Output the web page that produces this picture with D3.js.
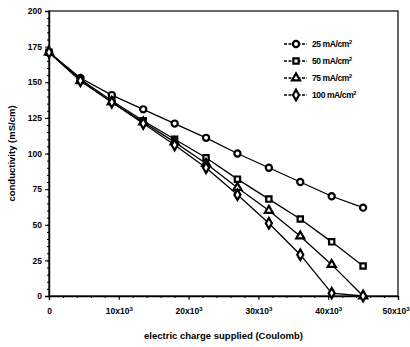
<!DOCTYPE html>
<html><head><meta charset="utf-8">
<script src="https://cdn.jsdelivr.net/npm/d3@7"></script>
<style>body{margin:0;background:#fff}svg{display:block}text{font-family:"Liberation Sans Narrow","Arial Narrow","Liberation Sans",Arial,sans-serif;fill:#000}</style>
</head><body><svg id="c" width="410" height="347"></svg>
<script>
const charge = [0, 4500, 9000, 13500, 18000, 22500, 27000, 31500, 36000, 40500, 45000];
const s25  = [171, 153, 141, 131, 121, 111, 100, 90, 80, 70, 62];
const s50  = [171, 152, 137, 123, 110, 97, 82, 68, 54, 38, 21];
const s75  = [171, 151, 136, 122, 108, 93, 76, 60, 42, 22, 0];
const s100 = [171, 151, 136, 121, 106, 90, 71, 51, 29, 2, 0];
const seriesNames = ["25 mA/cm", "50 mA/cm", "75 mA/cm", "100 mA/cm"];
const markerTypes = ["circle", "square", "triangle", "diamond"];
const xTicks = [0, 10000, 20000, 30000, 40000, 50000];
const yTicks = [0, 25, 50, 75, 100, 125, 150, 175, 200];

const svg = d3.select("#c");
const L = 49, R = 398, T = 11, B = 296;
const x = d3.scaleLinear().domain([0, 50000]).range([L, R]);
const y = d3.scaleLinear().domain([0, 200]).range([B, T]);

// frame
svg.append("rect").attr("x", L).attr("y", T).attr("width", R - L).attr("height", B - T)
  .attr("fill", "none").attr("stroke", "#000").attr("stroke-width", 1.2);

// axes
const yAx = svg.append("g").attr("transform", `translate(${L},0)`)
  .call(d3.axisLeft(y).tickValues(yTicks).tickSize(4).tickPadding(3));
yAx.select(".domain").attr("stroke-width", 1.4);
yAx.selectAll("text").attr("font-size", 8.5).attr("font-weight", "bold");
svg.append("g").attr("transform", `translate(${L},0)`)
  .call(d3.axisLeft(y).tickValues(d3.range(0, 201, 5)).tickSize(2).tickFormat(""))
  .select(".domain").remove();

const xAx = svg.append("g").attr("transform", `translate(0,${B})`)
  .call(d3.axisBottom(x).tickValues(xTicks).tickSize(4).tickPadding(8)
    .tickFormat(() => ""));
xAx.select(".domain").attr("stroke-width", 1.4);
xAx.selectAll(".tick text").each(function(d) {
  const t = d3.select(this).attr("font-size", 8.5).attr("font-weight", "bold");
  if (d === 0) { t.text("0"); return; }
  if (d === 50000) t.attr("text-anchor", "end").attr("x", 409 - x(d));
  t.append("tspan").text((d / 1000) + "x10");
  t.append("tspan").attr("dy", -3).attr("font-size", 6).text("3");
});
svg.append("g").attr("transform", `translate(0,${B})`)
  .call(d3.axisBottom(x).tickValues(d3.range(0, 50001, 2000)).tickSize(2).tickFormat(""))
  .select(".domain").remove();

// titles
svg.append("text").attr("transform", `translate(15,${(T + B) / 2}) rotate(-90)`)
  .attr("text-anchor", "middle").attr("font-size", 9.5).attr("font-weight", "bold")
  .text("conductivity (mS/cm)");
svg.append("text").attr("x", (L + R) / 2).attr("y", 339)
  .attr("text-anchor", "middle").attr("font-size", 9.5).attr("font-weight", "bold")
  .text("electric charge supplied (Coulomb)");

const sym = {
  circle: d3.symbol().type(d3.symbolCircle).size(30),
  square: d3.symbol().type(d3.symbolSquare).size(28),
  triangle: d3.symbol().type(d3.symbolTriangle).size(28),
  diamond: d3.symbol().type(d3.symbolDiamond).size(32)
};

const allSeries = [s25, s50, s75, s100];
const line = d3.line().x((d, i) => x(charge[i])).y(d => y(d));
allSeries.forEach((s, k) => {
  svg.append("path").datum(s).attr("d", line).attr("fill", "none")
    .attr("stroke", "#000").attr("stroke-width", 1.3);
});
allSeries.forEach((s, k) => {
  svg.append("g").selectAll("path").data(s).join("path")
    .attr("transform", (d, i) => `translate(${x(charge[i])},${y(d)})`)
    .attr("d", sym[markerTypes[k]]())
    .attr("fill", "#fff").attr("stroke", "#000").attr("stroke-width", 2.2);
});

// legend
const lg = svg.append("g");
seriesNames.forEach((n, k) => {
  const yy = 44 + k * 17;
  lg.append("line").attr("x1", 284).attr("x2", 307).attr("y1", yy).attr("y2", yy)
    .attr("stroke", "#000").attr("stroke-width", 1.3).attr("stroke-dasharray", "3,1.5");
  lg.append("path").attr("transform", `translate(296,${yy})`).attr("d", sym[markerTypes[k]]())
    .attr("fill", "#fff").attr("stroke", "#000").attr("stroke-width", 2.2);
  const t = lg.append("text").attr("x", 312).attr("y", yy + 3).attr("font-size", 8.5)
    .attr("font-weight", "bold").attr("letter-spacing", -0.4);
  t.append("tspan").text(n);
  t.append("tspan").attr("dy", -3).attr("font-size", 5.5).text("2");
});
</script></body></html>
